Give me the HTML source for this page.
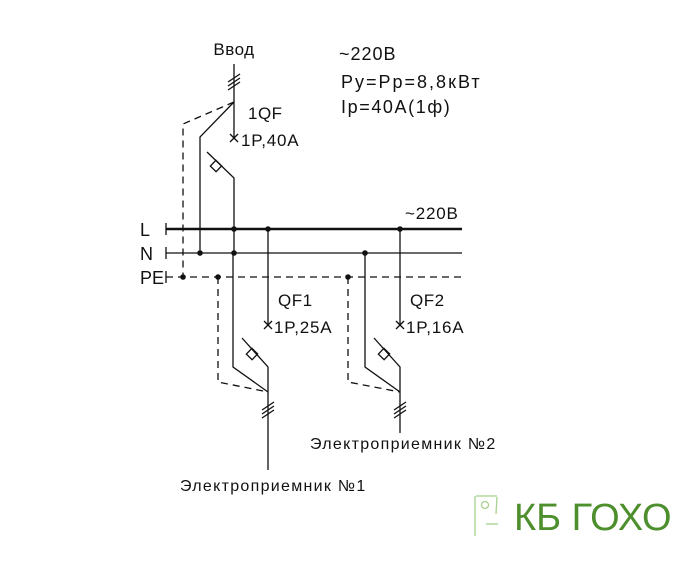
<!DOCTYPE html>
<html><head><meta charset="utf-8"><style>
body{margin:0;background:#fff;}
svg text{font-family:"Liberation Sans",sans-serif;fill:#111;}
</style></head><body>
<svg width="696" height="564" viewBox="0 0 696 564" xmlns="http://www.w3.org/2000/svg">
<g stroke="#111" stroke-width="1.3" fill="none">
<line x1="166" y1="229" x2="462" y2="229" stroke-width="2.6"/>
<line x1="166" y1="253" x2="462" y2="253"/>
<line x1="166" y1="277" x2="462" y2="277" stroke-dasharray="7,5"/>
<line x1="166" y1="223" x2="166" y2="235"/>
<line x1="166" y1="247" x2="166" y2="259"/>
<line x1="166" y1="271" x2="166" y2="283"/>
<line x1="234" y1="64" x2="234" y2="102"/>
<line x1="228" y1="82" x2="240" y2="74"/><line x1="228" y1="86" x2="240" y2="78"/><line x1="228" y1="90" x2="240" y2="82"/>
<polyline points="234,102 200,137 200,253"/>
<polyline points="234,102 183,124 183,277" stroke-dasharray="7,5"/>
<line x1="234" y1="102" x2="234" y2="138"/>
<line x1="230" y1="134" x2="238" y2="142"/><line x1="238" y1="134" x2="230" y2="142"/>
<polyline points="207,152 234,178 234,229"/>
<rect x="212" y="162" width="8" height="8" transform="rotate(44 216 166)"/>
<line x1="234" y1="229" x2="234" y2="253"/>
<line x1="268" y1="229" x2="268" y2="325"/>
<line x1="264" y1="321" x2="272" y2="329"/><line x1="272" y1="321" x2="264" y2="329"/>
<polyline points="242,338 268,367 268,470"/>
<rect x="248" y="350" width="8" height="8" transform="rotate(44 252 354)"/>
<polyline points="233,253 233,367 268,392"/>
<polyline points="218,277 218,382 268,392" stroke-dasharray="7,5"/>
<line x1="262" y1="410" x2="274" y2="402"/><line x1="262" y1="414" x2="274" y2="406"/><line x1="262" y1="418" x2="274" y2="410"/>
<line x1="400" y1="229" x2="400" y2="325"/>
<line x1="396" y1="321" x2="404" y2="329"/><line x1="404" y1="321" x2="396" y2="329"/>
<polyline points="374,338 400,367 400,433"/>
<rect x="380" y="350" width="8" height="8" transform="rotate(44 384 354)"/>
<polyline points="365,253 365,367 400,392"/>
<polyline points="348,277 348,382 400,392" stroke-dasharray="7,5"/>
<line x1="394" y1="410" x2="406" y2="402"/><line x1="394" y1="414" x2="406" y2="406"/><line x1="394" y1="418" x2="406" y2="410"/>
</g>
<g fill="#111">
<circle cx="234" cy="229" r="2.8"/><circle cx="268" cy="229" r="2.8"/><circle cx="400" cy="229" r="2.8"/>
<circle cx="200" cy="253" r="2.8"/><circle cx="234" cy="253" r="2.8"/><circle cx="365" cy="253" r="2.8"/>
<circle cx="183" cy="277" r="2.8"/><circle cx="218" cy="277" r="2.8"/><circle cx="348" cy="277" r="2.8"/>
</g>
<g font-size="18">
<text x="234" y="55" text-anchor="middle" font-size="17" letter-spacing="0.5">Ввод</text>
<text x="248" y="119" font-size="17" letter-spacing="0.5">1QF</text>
<text x="241" y="146" font-size="17" letter-spacing="0.8">1P,40A</text>
<text x="339" y="60" letter-spacing="1">~220В</text>
<text x="341" y="88" letter-spacing="2">Ру=Рр=8,8кВт</text>
<text x="341" y="113" letter-spacing="1.6">Iр=40А(1ф)</text>
<text x="405" y="219" font-size="17" letter-spacing="0.8">~220В</text>
<text x="140" y="236">L</text>
<text x="140" y="260">N</text>
<text x="140" y="284">PE</text>
<text x="278" y="306" font-size="17" letter-spacing="0.5">QF1</text>
<text x="274" y="333" font-size="17" letter-spacing="0.8">1P,25A</text>
<text x="410" y="306" font-size="17" letter-spacing="0.5">QF2</text>
<text x="406" y="333" font-size="17" letter-spacing="0.8">1P,16A</text>
<text x="310" y="449" font-size="16" letter-spacing="1.3">Электроприемник №2</text>
<text x="180" y="491" font-size="16" letter-spacing="1.3">Электроприемник №1</text>
</g>
<g stroke="#a8d08d" stroke-width="1.3" fill="none">
<polyline points="475,496 475,536"/>
<line x1="476" y1="496" x2="497" y2="496"/>
<line x1="497" y1="497" x2="496" y2="514"/>
<line x1="486" y1="524" x2="498" y2="524"/>
<circle cx="485" cy="505" r="3.5"/>
</g>
<text x="514" y="530" font-size="38" style="fill:#4d8f2c">КБ ГОХО</text>
</svg>
</body></html>
